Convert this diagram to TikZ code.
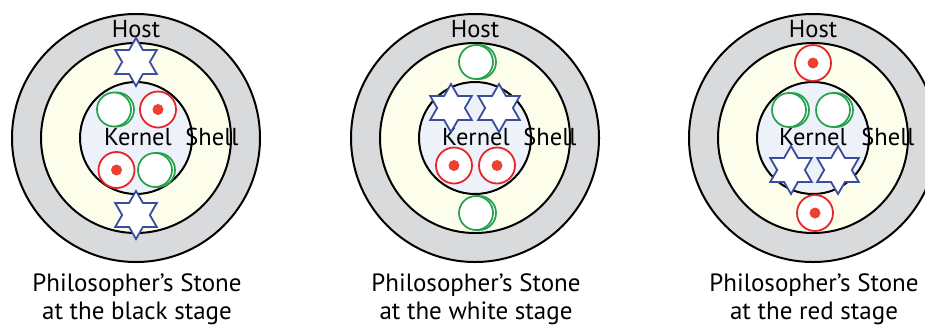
\documentclass[tikz,border=0pt]{standalone}
\usepackage{fontspec}
\setmainfont{PT Sans}
\usetikzlibrary{shapes.geometric}
\definecolor{ringgray}{HTML}{D9DADC}
\definecolor{ringcream}{HTML}{FDFDEC}
\definecolor{kernelblue}{HTML}{EDF1F9}
\definecolor{starblue}{HTML}{3A4C9E}
\definecolor{cellgreen}{HTML}{25A04B}
\definecolor{cellred}{HTML}{E52629}
\definecolor{dotred}{HTML}{EE4031}
\tikzset{
  ringline/.style={draw=black, line width=2pt, circle, inner sep=0pt},
  outerring/.style={ringline, fill=ringgray, minimum size=248pt},
  midring/.style={ringline, fill=ringcream, minimum size=190pt},
  innerring/.style={ringline, fill=kernelblue, minimum size=112pt},
  hexstar/.style={star, star points=6, star point ratio=1.732, draw=starblue, fill=white, line width=1.8pt, minimum size=48pt, inner sep=0pt},
  greencell/.style={circle, draw=cellgreen, fill=white, line width=1.7pt, minimum size=34pt, inner sep=0pt},
  redcell/.style={circle, draw=cellred, fill=white, line width=1.8pt, minimum size=36pt, inner sep=0pt},
  reddot/.style={circle, fill=dotred, minimum size=11pt, inner sep=0pt},
  lbl/.style={font=\fontsize{24.5}{28}\selectfont, anchor=base, inner sep=0pt},
  caption/.style={font=\fontsize{25}{29}\selectfont, anchor=base, inner sep=0pt}
}
\begin{document}
\begin{tikzpicture}[x=1pt, y=-1pt]
\useasboundingbox (0,0) rectangle (925,325);
\clip (0,0) rectangle (925,325);
% ---------- panel 1 ----------
\begin{scope}[shift={(136,138)}]
  \node[outerring] (o1) at (0,0) {};
  \node[midring] (m1) at (0,0) {};
  \node[innerring] (k1) at (0,0) {};
  \node[lbl] (h1) at (0,-101) {Host};
  \node[lbl] (kl1) at (2,7) {Kernel};
  \node[lbl] (sl1) at (76,7) {Shell};
  \node[hexstar] (s1a) at (0,-76) {};
  \node[hexstar] (s1b) at (0,77) {};
  \node[greencell] (g1ab) at (-19,-28.5) {};
  \node[greencell] (g1a) at (-22,-28.5) {};
  \node[redcell] (r1a) at (22,-28.5) {};
  \node[reddot] (d1a) at (22,-28.5) {};
  \node[redcell] (r1b) at (-19.5,32) {};
  \node[reddot] (d1b) at (-19.5,32) {};
  \node[greencell] (g1bb) at (22,32) {};
  \node[greencell] (g1b) at (19,32) {};
  \node[caption] (c1a) at (1,153) {Philosopher’s Stone};
  \node[caption] (c1b) at (1,181) {at the black stage};
\end{scope}
% ---------- panel 2 ----------
\begin{scope}[shift={(475,138)}]
  \node[outerring] (o2) at (0,0) {};
  \node[midring] (m2) at (0,0) {};
  \node[innerring] (k2) at (0,0) {};
  \node[lbl] (h2) at (0,-101) {Host};
  \node[lbl] (kl2) at (1,7) {Kernel};
  \node[lbl] (sl2) at (75,7) {Shell};
  \node[greencell] (g2ab) at (4,-76) {};
  \node[greencell] (g2a) at (1,-76) {};
  \node[greencell] (g2bb) at (4,75) {};
  \node[greencell] (g2b) at (1,75) {};
  \node[hexstar] (s2a) at (-24,-30) {};
  \node[hexstar] (s2b) at (24,-30) {};
  \node[redcell] (r2a) at (-21,27.5) {};
  \node[reddot] (d2a) at (-21,27.5) {};
  \node[redcell] (r2b) at (22,27.5) {};
  \node[reddot] (d2b) at (22,27.5) {};
  \node[caption] (c2a) at (1,153) {Philosopher’s Stone};
  \node[caption] (c2b) at (1,181) {at the white stage};
\end{scope}
% ---------- panel 3 ----------
\begin{scope}[shift={(813,138)}]
  \node[outerring] (o3) at (0,0) {};
  \node[midring] (m3) at (0,0) {};
  \node[innerring] (k3) at (0,0) {};
  \node[lbl] (h3) at (0,-101) {Host};
  \node[lbl] (kl3) at (0,7) {Kernel};
  \node[lbl] (sl3) at (75,7) {Shell};
  \node[redcell] (r3a) at (0,-75) {};
  \node[reddot] (d3a) at (0,-75) {};
  \node[redcell] (r3b) at (2,75) {};
  \node[reddot] (d3b) at (2,75) {};
  \node[greencell] (g3ab) at (-21,-28) {};
  \node[greencell] (g3a) at (-24,-28) {};
  \node[greencell] (g3bb) at (23,-28) {};
  \node[greencell] (g3b) at (20,-28) {};
  \node[hexstar] (s3a) at (-22,32) {};
  \node[hexstar] (s3b) at (25,32) {};
  \node[caption] (c3a) at (1,153) {Philosopher’s Stone};
  \node[caption] (c3b) at (1,181) {at the red stage};
\end{scope}
\end{tikzpicture}
\end{document}
